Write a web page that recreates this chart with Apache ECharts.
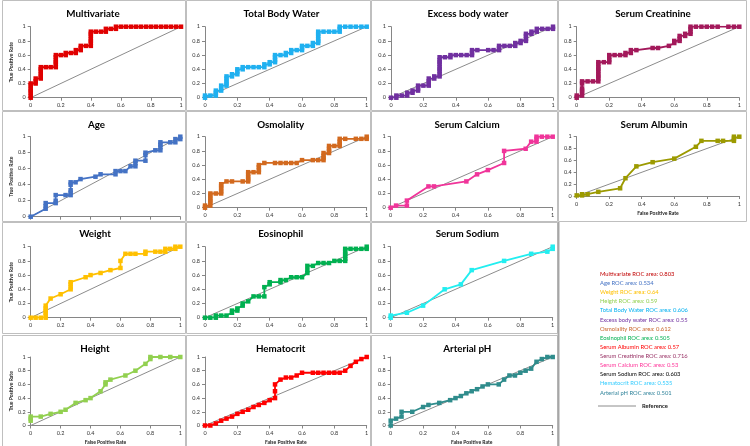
<!DOCTYPE html>
<html>
<head>
<meta charset="utf-8">
<script src="https://cdn.jsdelivr.net/npm/echarts@6/dist/echarts.min.js"></script>
<style>
  html, body { margin: 0; padding: 0; background: #fff; }
  #chart { width: 750px; height: 446px; }
</style>
</head>
<body>
<div id="chart"></div>
<script>
// ROC points: [false positive rate, true positive rate]
var multivariate = [[0,0],[0,0.03],[0,0.07],[0,0.1],[0,0.13],[0,0.17],[0,0.2],[0.033,0.2],[0.033,0.23],[0.033,0.27],[0.067,0.27],[0.067,0.3],[0.067,0.33],[0.067,0.37],[0.067,0.4],[0.067,0.43],[0.1,0.43],[0.133,0.43],[0.167,0.43],[0.167,0.47],[0.167,0.5],[0.167,0.53],[0.167,0.57],[0.167,0.6],[0.2,0.6],[0.233,0.6],[0.233,0.63],[0.267,0.63],[0.3,0.63],[0.3,0.67],[0.333,0.67],[0.333,0.7],[0.333,0.73],[0.367,0.73],[0.4,0.73],[0.4,0.77],[0.4,0.8],[0.4,0.83],[0.4,0.87],[0.4,0.9],[0.4,0.93],[0.433,0.93],[0.467,0.93],[0.5,0.93],[0.5,0.97],[0.533,0.97],[0.567,0.97],[0.567,1],[0.6,1],[0.633,1],[0.667,1],[0.7,1],[0.733,1],[0.767,1],[0.8,1],[0.833,1],[0.867,1],[0.9,1],[0.933,1],[0.967,1],[1,1]];
var totalBodyWater = [[0,0],[0,0.03],[0.033,0.03],[0.067,0.03],[0.067,0.07],[0.067,0.1],[0.1,0.1],[0.1,0.13],[0.1,0.17],[0.133,0.17],[0.133,0.2],[0.133,0.23],[0.133,0.27],[0.133,0.3],[0.167,0.3],[0.167,0.33],[0.2,0.33],[0.2,0.37],[0.2,0.4],[0.233,0.4],[0.233,0.43],[0.267,0.43],[0.3,0.43],[0.333,0.43],[0.367,0.43],[0.367,0.47],[0.4,0.47],[0.4,0.5],[0.433,0.5],[0.433,0.53],[0.433,0.57],[0.433,0.6],[0.467,0.6],[0.5,0.6],[0.5,0.63],[0.533,0.63],[0.533,0.67],[0.567,0.67],[0.6,0.67],[0.6,0.7],[0.6,0.73],[0.633,0.73],[0.667,0.73],[0.667,0.77],[0.7,0.77],[0.7,0.8],[0.7,0.83],[0.7,0.87],[0.7,0.9],[0.7,0.93],[0.733,0.93],[0.767,0.93],[0.8,0.93],[0.833,0.93],[0.833,0.97],[0.833,1],[0.867,1],[0.9,1],[0.933,1],[0.967,1],[1,1]];
var excessBodyWater = [[0,0],[0.033,0],[0.033,0.03],[0.067,0.03],[0.1,0.03],[0.1,0.07],[0.133,0.07],[0.133,0.1],[0.167,0.1],[0.167,0.13],[0.167,0.17],[0.2,0.17],[0.233,0.17],[0.233,0.2],[0.233,0.23],[0.233,0.27],[0.267,0.27],[0.267,0.3],[0.3,0.3],[0.3,0.33],[0.3,0.37],[0.3,0.4],[0.3,0.43],[0.3,0.47],[0.3,0.5],[0.3,0.53],[0.3,0.57],[0.333,0.57],[0.367,0.57],[0.367,0.6],[0.4,0.6],[0.433,0.6],[0.467,0.6],[0.5,0.6],[0.5,0.63],[0.5,0.67],[0.533,0.67],[0.6,0.67],[0.633,0.67],[0.667,0.67],[0.667,0.7],[0.667,0.73],[0.7,0.73],[0.733,0.73],[0.767,0.73],[0.767,0.77],[0.8,0.77],[0.8,0.8],[0.833,0.8],[0.833,0.83],[0.833,0.87],[0.833,0.9],[0.867,0.9],[0.867,0.93],[0.9,0.93],[0.9,0.97],[0.933,0.97],[0.967,0.97],[1,0.97],[1,1]];
var serumCreatinine = [[0,0],[0,0.03],[0.033,0.03],[0.033,0.07],[0.033,0.1],[0.033,0.13],[0.033,0.2],[0.033,0.23],[0.067,0.23],[0.1,0.23],[0.133,0.23],[0.133,0.27],[0.133,0.3],[0.133,0.33],[0.133,0.37],[0.133,0.4],[0.133,0.43],[0.133,0.47],[0.133,0.5],[0.167,0.5],[0.2,0.5],[0.2,0.53],[0.2,0.57],[0.2,0.6],[0.233,0.6],[0.267,0.6],[0.3,0.6],[0.3,0.63],[0.333,0.63],[0.333,0.67],[0.367,0.67],[0.467,0.7],[0.5,0.7],[0.567,0.73],[0.6,0.77],[0.6,0.8],[0.633,0.8],[0.633,0.83],[0.633,0.87],[0.667,0.87],[0.667,0.9],[0.7,0.9],[0.7,0.93],[0.7,0.97],[0.7,1],[0.733,1],[0.767,1],[0.8,1],[0.833,1],[0.867,1],[0.933,1],[0.967,1],[1,1]];
var age = [[0,0],[0.1,0.1],[0.1,0.13],[0.1,0.17],[0.167,0.17],[0.167,0.2],[0.167,0.27],[0.233,0.27],[0.267,0.27],[0.267,0.3],[0.267,0.33],[0.267,0.4],[0.267,0.43],[0.3,0.43],[0.333,0.47],[0.433,0.5],[0.467,0.53],[0.567,0.53],[0.567,0.57],[0.6,0.57],[0.633,0.57],[0.667,0.63],[0.7,0.63],[0.7,0.67],[0.7,0.7],[0.767,0.7],[0.767,0.77],[0.767,0.8],[0.833,0.83],[0.867,0.83],[0.867,0.87],[0.867,0.9],[0.867,0.93],[0.933,0.93],[0.967,0.93],[0.967,0.97],[1,0.97],[1,1]];
var osmolality = [[0,0],[0,0.03],[0.033,0.03],[0.033,0.07],[0.033,0.1],[0.033,0.13],[0.033,0.17],[0.033,0.2],[0.067,0.2],[0.1,0.2],[0.1,0.23],[0.1,0.27],[0.1,0.3],[0.1,0.33],[0.133,0.37],[0.167,0.37],[0.233,0.37],[0.267,0.37],[0.267,0.4],[0.267,0.43],[0.267,0.47],[0.267,0.5],[0.3,0.5],[0.333,0.5],[0.333,0.53],[0.333,0.57],[0.333,0.6],[0.367,0.63],[0.433,0.63],[0.467,0.63],[0.5,0.63],[0.533,0.63],[0.567,0.63],[0.6,0.67],[0.667,0.67],[0.7,0.67],[0.733,0.67],[0.733,0.7],[0.733,0.73],[0.733,0.77],[0.767,0.77],[0.767,0.8],[0.767,0.83],[0.767,0.87],[0.8,0.87],[0.833,0.87],[0.833,0.9],[0.833,0.93],[0.833,0.97],[0.867,0.97],[0.933,0.97],[0.967,0.97],[1,0.97],[1,1]];
var serumCalcium = [[0,0],[0.033,0.03],[0.1,0.03],[0.1,0.1],[0.233,0.3],[0.267,0.3],[0.467,0.37],[0.533,0.47],[0.6,0.53],[0.7,0.63],[0.7,0.8],[0.833,0.83],[0.867,0.93],[0.9,0.93],[0.9,0.97],[0.9,1],[0.933,1],[0.967,1],[1,1]];
var serumAlbumin = [[0,0.01],[0.033,0.01],[0.033,0.03],[0.067,0.03],[0.133,0.07],[0.267,0.13],[0.3,0.3],[0.367,0.5],[0.467,0.57],[0.6,0.63],[0.733,0.83],[0.767,0.93],[0.867,0.93],[0.9,0.93],[0.967,0.93],[0.967,0.97],[0.967,1],[1,1]];
var weight = [[0,0],[0.033,0],[0.067,0],[0.1,0],[0.1,0.03],[0.1,0.07],[0.1,0.1],[0.1,0.13],[0.1,0.17],[0.133,0.27],[0.2,0.33],[0.267,0.4],[0.267,0.43],[0.267,0.47],[0.267,0.5],[0.367,0.57],[0.4,0.6],[0.467,0.63],[0.533,0.67],[0.6,0.7],[0.6,0.8],[0.633,0.9],[0.667,0.9],[0.7,0.9],[0.767,0.9],[0.767,0.93],[0.833,0.93],[0.867,0.93],[0.9,0.93],[0.9,0.97],[0.933,0.97],[0.967,0.97],[0.967,1],[1,1]];
var eosinophil = [[0,0],[0.033,0],[0.067,0],[0.067,0.03],[0.1,0.03],[0.133,0.03],[0.167,0.07],[0.167,0.1],[0.2,0.1],[0.2,0.13],[0.233,0.17],[0.233,0.2],[0.267,0.23],[0.3,0.3],[0.333,0.3],[0.367,0.3],[0.367,0.43],[0.4,0.47],[0.4,0.5],[0.467,0.5],[0.467,0.53],[0.5,0.53],[0.533,0.57],[0.567,0.57],[0.6,0.57],[0.633,0.63],[0.633,0.67],[0.633,0.73],[0.667,0.73],[0.7,0.77],[0.733,0.77],[0.767,0.77],[0.8,0.8],[0.833,0.8],[0.867,0.8],[0.867,0.83],[0.867,0.87],[0.867,0.9],[0.867,0.93],[0.867,0.97],[0.9,0.97],[0.933,0.97],[0.967,0.97],[1,0.97],[1,1]];
var serumSodium = [[0,0],[0,0.03],[0.1,0.07],[0.2,0.17],[0.333,0.4],[0.433,0.47],[0.5,0.67],[0.7,0.8],[0.867,0.9],[0.967,0.93],[1,0.97],[1,1]];
var height = [[0,0.07],[0,0.1],[0,0.13],[0.067,0.13],[0.133,0.17],[0.2,0.2],[0.233,0.23],[0.3,0.33],[0.367,0.37],[0.4,0.4],[0.467,0.5],[0.5,0.6],[0.5,0.63],[0.533,0.67],[0.633,0.73],[0.7,0.8],[0.767,0.9],[0.8,0.97],[0.8,1],[0.867,1],[0.933,1],[1,1]];
var hematocrit = [[0,0],[0.033,0],[0.067,0.03],[0.1,0.07],[0.133,0.1],[0.167,0.13],[0.2,0.17],[0.233,0.2],[0.267,0.23],[0.3,0.27],[0.333,0.3],[0.367,0.33],[0.4,0.37],[0.433,0.4],[0.433,0.5],[0.433,0.6],[0.467,0.67],[0.5,0.7],[0.533,0.7],[0.567,0.73],[0.6,0.77],[0.667,0.77],[0.7,0.77],[0.733,0.77],[0.767,0.77],[0.8,0.77],[0.833,0.77],[0.867,0.8],[0.9,0.87],[0.933,0.93],[0.967,0.97],[1,1]];
var arterialPH = [[0,0],[0,0.07],[0.033,0.1],[0.067,0.13],[0.067,0.2],[0.133,0.2],[0.2,0.27],[0.233,0.3],[0.3,0.33],[0.367,0.37],[0.4,0.4],[0.433,0.43],[0.467,0.47],[0.5,0.5],[0.533,0.53],[0.567,0.57],[0.6,0.6],[0.667,0.6],[0.7,0.67],[0.733,0.73],[0.767,0.73],[0.8,0.77],[0.833,0.8],[0.867,0.83],[0.9,0.93],[0.933,0.97],[0.967,1],[1,1]];
var reference = [[0,0],[1,1]];

var axisTicks = [0, 0.2, 0.4, 0.6, 0.8, 1];

// legend box
var rocNames = ['Multivariate', 'Age', 'Weight', 'Height', 'Total Body Water', 'Excess body water', 'Osmolality', 'Eosinophil', 'Serum Albumin', 'Serum Creatinine', 'Serum Calcium', 'Serum Sodium', 'Hematocrit', 'Arterial pH'];
var rocAreas = ['0.803', '0.534', '0.64', '0.59', '0.606', '0.55', '0.612', '0.505', '0.57', '0.716', '0.53', '0.603', '0.535', '0.501'];
var rocLegendColors = ['#c00000', '#4472c4', '#ffc000', '#92d050', '#00b0f0', '#7030a0', '#c8642a', '#00b050', '#ff0000', '#993366', '#ff3399', '#000000', '#33ccff', '#31849b'];

var FONT = 'Lato, "Open Sans", sans-serif';

// one entry per small plot: grid box, title spot, axis decorations
var panels = [
  {title: 'Multivariate', data: multivariate, color: '#e00000', box: [30.7, 26.7, 150.3, 71], tx: 93, ty: 14, xLabels: true, yName: true},
  {title: 'Total Body Water', data: totalBodyWater, color: '#1fb0f0', box: [205, 26.7, 161.7, 71], tx: 281.5, ty: 14, xLabels: true},
  {title: 'Excess body water', data: excessBodyWater, color: '#7030a0', box: [391, 26.7, 162, 71], tx: 468, ty: 14, xLabels: true},
  {title: 'Serum Creatinine', data: serumCreatinine, color: '#a3195b', box: [576.7, 26.7, 162.6, 71], tx: 653, ty: 14, xLabels: true},
  {title: 'Age', data: age, color: '#4472c4', box: [30.7, 136.7, 149.6, 80], tx: 96.5, ty: 125, xLabels: false, yName: true},
  {title: 'Osmolality', data: osmolality, color: '#d2691e', box: [205, 136.7, 161.7, 71], tx: 280.7, ty: 124.5, xLabels: true},
  {title: 'Serum Calcium', data: serumCalcium, color: '#f0359a', box: [390.7, 136.7, 162, 71], tx: 467, ty: 124.5, xLabels: true},
  {title: 'Serum Albumin', data: serumAlbumin, color: '#9c9a00', box: [576.7, 136.7, 162.6, 59.3], tx: 654, ty: 124.5, xLabels: true, xName: true},
  {title: 'Weight', data: weight, color: '#ffc000', box: [30.7, 246.7, 149.6, 71], tx: 95, ty: 234.3, xLabels: true, yName: true},
  {title: 'Eosinophil', data: eosinophil, color: '#00b050', box: [205, 246.7, 161.7, 71], tx: 280.7, ty: 233.5, xLabels: true},
  {title: 'Serum Sodium', data: serumSodium, color: '#22eef0', box: [390.7, 246.7, 162, 71], tx: 467.3, ty: 233.5, xLabels: true},
  {title: 'Height', data: height, color: '#92d050', box: [30.7, 357, 149.6, 71], tx: 95, ty: 349, xLabels: true, xName: true, yName: true},
  {title: 'Hematocrit', data: hematocrit, color: '#ff0000', box: [205, 357, 161.7, 71], tx: 280.7, ty: 349, xLabels: true, xName: true},
  {title: 'Arterial pH', data: arterialPH, color: '#2f8c8c', box: [390.7, 357, 162, 71], tx: 467.3, ty: 349, xLabels: true, xName: true}
];

var frames = [
  [2, 0, 183, 110], [186, 0, 184, 110], [371, 0, 186, 110], [558, 0, 188, 110],
  [2, 111, 183, 110], [186, 111, 184, 110], [371, 111, 186, 110], [558, 111, 188, 110],
  [2, 222, 183, 111], [186, 222, 184, 111], [371, 222, 186, 111],
  [2, 335, 183, 111], [186, 335, 184, 111], [371, 335, 186, 111]
];

var grids = [], xAxes = [], yAxes = [], series = [], graphics = [];

frames.forEach(function (f) {
  graphics.push({type: 'rect', silent: true, shape: {x: f[0] + 0.5, y: f[1] + 0.5, width: f[2], height: f[3]},
    style: {fill: 'none', stroke: '#bfbfbf', lineWidth: 1}});
});
graphics.push({type: 'line', silent: true, shape: {x1: 558.5, y1: 222, x2: 558.5, y2: 446}, style: {stroke: '#a6a6a6', lineWidth: 2}});

panels.forEach(function (p, i) {
  grids.push({left: p.box[0], top: p.box[1], width: p.box[2], height: p.box[3], containLabel: false});
  var axisCommon = {
    type: 'value', min: axisTicks[0], max: axisTicks[axisTicks.length - 1], interval: axisTicks[1] - axisTicks[0],
    gridIndex: i, splitLine: {show: false},
    axisLine: {lineStyle: {color: '#868686', width: 1}},
    axisTick: {show: true, length: 3, lineStyle: {color: '#868686'}},
    nameTextStyle: {fontFamily: FONT, fontSize: 5, fontWeight: 'bold', color: '#222'}
  };
  xAxes.push(echarts.util.merge({
    axisLabel: {show: p.xLabels, fontSize: 5.5, fontFamily: FONT, color: '#333', margin: 5},
    name: p.xName ? 'False Positive Rate' : '', nameLocation: 'middle', nameGap: 14.5
  }, axisCommon, true));
  yAxes.push(echarts.util.merge({
    axisLabel: {fontSize: 5.5, fontFamily: FONT, color: '#333', margin: 5},
    name: p.yName ? 'True Positive Rate' : '', nameLocation: 'middle', nameGap: 16, nameRotate: 90
  }, axisCommon, true));
  series.push({
    type: 'line', xAxisIndex: i, yAxisIndex: i, data: reference, symbol: 'none', silent: true,
    lineStyle: {color: '#8c8c8c', width: 1}, z: 1
  });
  series.push({
    type: 'line', xAxisIndex: i, yAxisIndex: i, data: p.data, symbol: 'rect', symbolSize: 4.5,
    itemStyle: {color: p.color}, lineStyle: {color: p.color, width: 1.8}, z: 2
  });
  graphics.push({type: 'text', silent: true, x: p.tx, y: p.ty,
    style: {text: p.title, font: 'bold 9.8px ' + FONT, fill: '#000', textAlign: 'center', textVerticalAlign: 'middle', align: 'center', verticalAlign: 'middle'}});
});

rocNames.forEach(function (n, i) {
  graphics.push({type: 'text', silent: true, x: 600, y: 274 + i * 9.13,
    style: {text: n + ' ROC area: ' + rocAreas[i], font: '5.8px ' + FONT, fill: rocLegendColors[i], textVerticalAlign: 'middle', verticalAlign: 'middle'}});
});
graphics.push({type: 'line', silent: true, shape: {x1: 598, y1: 406, x2: 636, y2: 406}, style: {stroke: '#8c8c8c', lineWidth: 1}});
graphics.push({type: 'text', silent: true, x: 642, y: 406,
  style: {text: 'Reference', font: 'bold 5.8px ' + FONT, fill: '#222', textVerticalAlign: 'middle', verticalAlign: 'middle'}});

var myChart = echarts.init(document.getElementById('chart'), null, {renderer: 'canvas'});
myChart.setOption({
  animation: false,
  backgroundColor: '#fff',
  grid: grids,
  xAxis: xAxes,
  yAxis: yAxes,
  series: series,
  graphic: {elements: graphics}
});
</script>
</body>
</html>
